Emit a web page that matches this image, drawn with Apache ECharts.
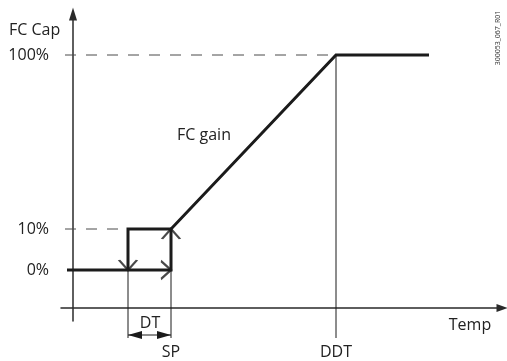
<!DOCTYPE html>
<html>
<head>
<meta charset="utf-8">
<script src="https://cdn.jsdelivr.net/npm/echarts@6/dist/echarts.min.js"></script>
<style>
  html, body { margin: 0; padding: 0; background: #fff; }
  #chart { width: 507px; height: 361px; }
</style>
</head>
<body>
<div id="chart"></div>
<script>
// schematic units (temperature along x, capacity along y)
const capLevels = [3.8, 7.9, 25.3]
const capLabels = ['0%', '10%', '100%']

const tempMarks = [9.8, 26.3]
const tempLabels = ['SP', 'DDT']

// FC gain curve (rising branch) and return branch of the hysteresis
const gainX = [-0.6, 9.8, 9.8, 26.3, 35.6]
const gainY = [3.8, 3.8, 7.9, 25.3, 25.3]
const returnX = [9.8, 5.5, 5.5]
const returnY = [7.9, 7.9, 3.8]

// open arrow heads on the hysteresis loop
const arrowX = [5.5, 9.8, 9.8]
const arrowY = [3.8, 3.8, 7.9]
const arrowDir = ['down', 'right', 'up']

// dashed guides to the y axis
const guideStart = -0.8
const guideEndX = [26.3, 5.5]
const guideY = [25.3, 7.9]

// thin drop lines and the DT dimension
const dropX = [5.5, 9.8, 26.3]
const dropTopY = [3.8, 3.8, 25.3]
const dropBottom = -3.0
const dtStart = 5.5
const dtEnd = 9.8
const dtY = -2.7

const INK = '#1b1b1b'
const FONT = '"Open Sans", sans-serif'

const CHEVRON = {
  down: { symbol: 'path://M0,0L9,10L18,0', size: [18, 10], offset: [0, -5] },
  right: { symbol: 'path://M0,0L10,9L0,18', size: [10, 18], offset: [-5, 0] },
  up: { symbol: 'path://M0,10L9,0L18,10', size: [18, 10], offset: [0, 5] },
}

const chart = echarts.init(document.getElementById('chart'))

const pairs = (xs, ys) => xs.map((x, i) => [x, ys[i]])
const thinLine = (data, extra) => Object.assign({
  type: 'line', data, symbol: 'none', silent: true, clip: false,
  lineStyle: { color: INK, width: 1 },
}, extra)

const series = []

guideEndX.forEach((x, i) => {
  series.push(thinLine([[guideStart, guideY[i]], [x, guideY[i]]], {
    lineStyle: { color: '#4a4a4a', width: 1, type: [11, 10] },
  }))
})

dropX.forEach((x, i) => {
  series.push(thinLine([[x, dropTopY[i]], [x, dropBottom]]))
})

series.push(thinLine(pairs(gainX, gainY), {
  lineStyle: { color: INK, width: 3, join: 'miter' },
}))
series.push(thinLine(pairs(returnX, returnY), {
  lineStyle: { color: INK, width: 3, join: 'miter' },
}))

series.push({
  type: 'scatter', silent: true, clip: false,
  itemStyle: { color: 'transparent', borderColor: INK, borderWidth: 2 },
  data: arrowX.map((x, i) => {
    const c = CHEVRON[arrowDir[i]]
    return { value: [x, arrowY[i]], symbol: c.symbol, symbolSize: c.size, symbolOffset: c.offset }
  }),
})

// DT dimension: thin line with filled heads, tips on the drop lines
const head = 0.7
series.push({
  type: 'line', silent: true, clip: false, showSymbol: true, showAllSymbol: true,
  symbol: 'none',
  lineStyle: { color: INK, width: 1 },
  itemStyle: { color: INK, borderWidth: 0 },
  data: [
    { value: [dtStart, dtY] },
    { value: [dtStart + head, dtY], symbol: 'triangle', symbolSize: [8, 14], symbolRotate: 90 },
    { value: [dtEnd - head, dtY], symbol: 'triangle', symbolSize: [8, 14], symbolRotate: -90 },
    { value: [dtEnd, dtY] },
  ],
})

chart.setOption({
  animation: false,
  grid: { left: 61, top: 14, width: 441, height: 307, outerBoundsMode: 'none', containLabel: false },
  xAxis: {
    type: 'value', min: -1.2, max: 42.9,
    splitLine: { show: false }, axisTick: { show: false },
    axisLine: {
      onZero: true, symbol: ['none', 'triangle'], symbolSize: [8, 11],
      lineStyle: { color: '#2a2a2a', width: 1.5 },
    },
    axisLabel: {
      customValues: tempMarks,
      formatter: v => tempLabels[tempMarks.indexOf(v)] || '',
      margin: 23, color: '#222', fontSize: 16, fontFamily: FONT,
    },
  },
  yAxis: {
    type: 'value', min: -1.3, max: 29.4,
    splitLine: { show: false }, axisTick: { show: false },
    axisLine: {
      onZero: true, symbol: ['none', 'triangle'], symbolSize: [8, 13],
      lineStyle: { color: '#2a2a2a', width: 1.5 },
    },
    axisLabel: {
      customValues: capLevels,
      formatter: v => capLabels[capLevels.indexOf(v)] || '',
      margin: 12, color: '#222', fontSize: 16, fontFamily: FONT,
    },
  },
  graphic: [
    { type: 'text', left: 9, top: 22, style: { text: 'FC Cap', fill: '#222', font: '16px ' + FONT } },
    { type: 'text', x: 204, y: 135, style: { text: 'FC gain', fill: '#222', font: '16px ' + FONT, align: 'center', verticalAlign: 'middle' } },
    { type: 'text', x: 150, y: 323, style: { text: 'DT', fill: '#222', font: '16px ' + FONT, align: 'center', verticalAlign: 'middle' } },
    { type: 'text', x: 470, y: 325, style: { text: 'Temp', fill: '#222', font: '16px ' + FONT, align: 'center', verticalAlign: 'middle' } },
    { type: 'text', x: 498, y: 38, rotation: Math.PI / 2, style: { text: '300053_067_R01', fill: '#333', font: '7px ' + FONT, align: 'center', verticalAlign: 'middle' } },
  ],
  series,
})
</script>
</body>
</html>
